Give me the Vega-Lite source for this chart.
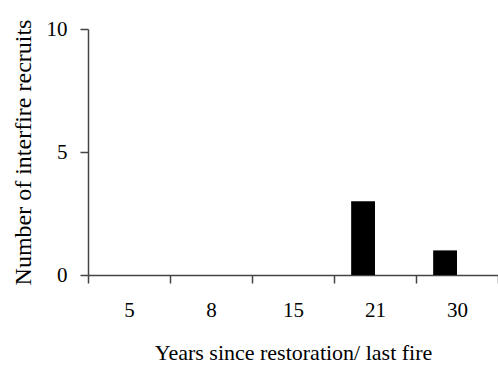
{
  "$schema": "https://vega.github.io/schema/vega-lite/v6.json",
  "autosize": {"type": "none"},
  "padding": {"left": 88, "top": 29, "right": 0, "bottom": 90},
  "width": 410,
  "height": 246,
  "background": "white",
  "data": {"values": [
    {"years": "5", "series": "A", "recruits": 0},
    {"years": "8", "series": "A", "recruits": 0},
    {"years": "15", "series": "A", "recruits": 0},
    {"years": "21", "series": "A", "recruits": 3},
    {"years": "30", "series": "A", "recruits": 1}
  ]},
  "config": {
    "font": "Liberation Serif",
    "view": {"stroke": null},
    "axis": {"domainColor": "#444", "tickColor": "#444", "labelColor": "black", "titleColor": "black", "labelFont": "Liberation Serif", "titleFont": "Liberation Serif", "labelFontSize": 21, "titleFontSize": 22, "titleFontWeight": "normal", "grid": false, "tickSize": 8, "domainWidth": 1.5, "tickWidth": 1.5}
  },
  "mark": {"type": "bar", "color": "black"},
  "encoding": {
    "x": {"field": "years", "type": "nominal", "sort": ["5", "8", "15", "21", "30"],
      "scale": {"paddingInner": 0, "paddingOuter": 0},
      "axis": {"title": "Years since restoration/ last fire", "labelAngle": 0, "tickBand": "extent", "labelPadding": 16, "titlePadding": 22}},
    "xOffset": {"field": "series", "type": "nominal", "scale": {"domain": ["A", "B"], "paddingInner": 0, "paddingOuter": 0.72}},
    "y": {"field": "recruits", "type": "quantitative",
      "scale": {"domain": [0, 10]},
      "axis": {"title": "Number of interfire recruits", "titleFontSize": 24, "values": [0, 5, 10], "labelPadding": 13, "titlePadding": 11}}
  }
}
